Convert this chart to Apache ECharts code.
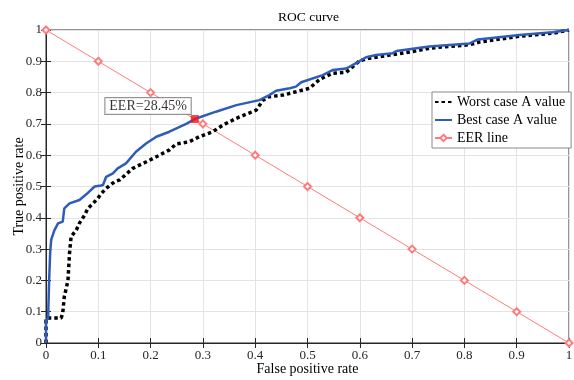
<!DOCTYPE html>
<html>
<head>
<meta charset="utf-8">
<script src="https://cdn.jsdelivr.net/npm/echarts@6/dist/echarts.min.js"></script>
<style>
html,body{margin:0;padding:0;background:#fff;}
#chart{width:574px;height:380px;}
</style>
</head>
<body>
<div id="chart"></div>
<script>
// ---- data ----
const tickValues = [0, 0.1, 0.2, 0.3, 0.4, 0.5, 0.6, 0.7, 0.8, 0.9, 1];

const worstX = [0, 0, 0.002, 0.029, 0.032, 0.035, 0.042, 0.045, 0.048, 0.058, 0.064, 0.074, 0.08, 0.09, 0.099, 0.106, 0.115, 0.131, 0.141, 0.166, 0.192, 0.217, 0.236, 0.249, 0.274, 0.293, 0.319, 0.338, 0.357, 0.364, 0.402, 0.415, 0.427, 0.453, 0.504, 0.523, 0.548, 0.574, 0.6, 0.619, 0.657, 0.701, 0.733, 0.81, 0.83, 0.905, 0.97, 1];
const worstY = [0, 0.073, 0.08, 0.08, 0.096, 0.148, 0.2, 0.287, 0.34, 0.361, 0.383, 0.409, 0.43, 0.446, 0.462, 0.478, 0.494, 0.515, 0.521, 0.558, 0.579, 0.6, 0.617, 0.636, 0.643, 0.659, 0.675, 0.696, 0.712, 0.718, 0.744, 0.776, 0.787, 0.792, 0.814, 0.842, 0.862, 0.865, 0.902, 0.91, 0.92, 0.931, 0.942, 0.953, 0.962, 0.98, 0.99, 1];

const bestX = [0, 0, 0.004, 0.006, 0.008, 0.01, 0.016, 0.023, 0.032, 0.035, 0.045, 0.064, 0.077, 0.093, 0.105, 0.109, 0.115, 0.128, 0.137, 0.153, 0.172, 0.192, 0.211, 0.236, 0.268, 0.2845, 0.325, 0.364, 0.408, 0.427, 0.44, 0.466, 0.478, 0.488, 0.529, 0.548, 0.574, 0.593, 0.612, 0.631, 0.663, 0.67, 0.733, 0.81, 0.826, 0.905, 0.969, 1];
const bestY = [0, 0.07, 0.08, 0.2, 0.29, 0.33, 0.36, 0.382, 0.388, 0.43, 0.446, 0.457, 0.475, 0.5, 0.503, 0.505, 0.531, 0.542, 0.558, 0.574, 0.611, 0.638, 0.659, 0.675, 0.7, 0.7155, 0.739, 0.76, 0.776, 0.792, 0.806, 0.814, 0.819, 0.833, 0.856, 0.872, 0.877, 0.894, 0.913, 0.92, 0.926, 0.933, 0.947, 0.957, 0.97, 0.984, 0.993, 1];

const eerX = [0, 0.1, 0.2, 0.3, 0.4, 0.5, 0.6, 0.7, 0.8, 0.9, 1];
const eerY = [1, 0.9, 0.8, 0.7, 0.6, 0.5, 0.4, 0.3, 0.2, 0.1, 0];

const eerPoint = [0.2845, 0.7155];
const eerLabel = 'EER=28.45%';

const seriesNames = ['Worst case A value', 'Best case A value', 'EER line'];

// ---- chart ----
const zip = (xs, ys) => xs.map((x, i) => [x, ys[i]]);
const serif = '"Liberation Serif", "DejaVu Serif", serif';
const dark = '#262626';
const fmt = v => String(+(+v).toFixed(1));

const chart = echarts.init(document.getElementById('chart'), null, {renderer: 'canvas'});

const baseAxis = {
  type: 'value', min: 0, max: 1, interval: 0.1,
};

chart.setOption({
  animation: false,
  backgroundColor: '#fff',
  title: {
    text: 'ROC curve', left: 273, top: 5,
    textStyle: {fontFamily: serif, fontSize: 13.5, fontWeight: 'normal', color: '#000'}
  },
  grid: {left: 46, right: 5, top: 30, bottom: 37, show: true, borderColor: dark, borderWidth: 1,
         containLabel: false, outerBoundsMode: 'none'},
  legend: {
    orient: 'vertical', left: 432, top: 92,
    data: [
      {name: seriesNames[0], itemStyle: {opacity: 0}},
      {name: seriesNames[1], itemStyle: {opacity: 0}},
      {name: seriesNames[2]}
    ],
    backgroundColor: '#fff', borderColor: '#8a8a8a', borderWidth: 1,
    padding: [3, 6, 3, 2], itemGap: 4, itemWidth: 17, itemHeight: 8,
    textStyle: {fontFamily: serif, fontSize: 14, color: '#000', lineHeight: 14}
  },
  xAxis: [
    Object.assign({}, baseAxis, {
      position: 'bottom',
      name: 'False positive rate', nameLocation: 'middle', nameGap: 19, nameMoveOverlap: false,
      nameTextStyle: {fontFamily: serif, fontSize: 14, color: '#000'},
      axisLine: {show: true, lineStyle: {color: dark, width: 1}},
      axisTick: {show: true, inside: true, length: 5, lineStyle: {color: dark}},
      axisLabel: {fontFamily: serif, fontSize: 13, color: dark, margin: 6, formatter: fmt},
      splitLine: {show: true, lineStyle: {color: '#e3e3e3', width: 1}}
    }),
    Object.assign({}, baseAxis, {
      position: 'top',
      axisLine: {show: true, lineStyle: {color: dark, width: 1}},
      axisTick: {show: true, inside: true, length: 5, lineStyle: {color: dark}},
      axisLabel: {show: false},
      splitLine: {show: false}
    })
  ],
  yAxis: [
    Object.assign({}, baseAxis, {
      position: 'left',
      name: 'True positive rate', nameLocation: 'middle', nameGap: 20, nameMoveOverlap: false,
      nameTextStyle: {fontFamily: serif, fontSize: 14, color: '#000'},
      axisLine: {show: true, lineStyle: {color: dark, width: 1}},
      axisTick: {show: true, inside: true, length: 5, lineStyle: {color: dark}},
      axisLabel: {fontFamily: serif, fontSize: 13, color: dark, margin: 4, formatter: fmt},
      splitLine: {show: true, lineStyle: {color: '#e3e3e3', width: 1}}
    }),
    Object.assign({}, baseAxis, {
      position: 'right',
      axisLine: {show: true, lineStyle: {color: dark, width: 1}},
      axisTick: {show: true, inside: true, length: 5, lineStyle: {color: dark}},
      axisLabel: {show: false},
      splitLine: {show: false}
    })
  ],
  series: [
    {
      name: seriesNames[2], type: 'line', data: zip(eerX, eerY),
      symbol: 'emptyDiamond', symbolSize: 7, z: 2,
      itemStyle: {color: '#ff7b7b', borderColor: '#ff7b7b', borderWidth: 0.8},
      lineStyle: {color: '#ff7b7b', width: 1}
    },
    {
      name: seriesNames[0], type: 'line', data: zip(worstX, worstY),
      showSymbol: false, symbol: 'none', z: 3,
      itemStyle: {color: '#000'},
      lineStyle: {color: '#000', width: 3.5, type: [3.5, 3], cap: 'butt'}
    },
    {
      name: seriesNames[1], type: 'line', data: zip(bestX, bestY),
      showSymbol: false, symbol: 'none', z: 4,
      itemStyle: {color: '#2e5cb8'},
      lineStyle: {color: '#2e5cb8', width: 2.5}
    },
    {
      name: 'EER', type: 'scatter', data: [eerPoint],
      symbol: 'rect', symbolSize: 8, z: 5,
      itemStyle: {color: '#f01818'},
      label: {
        show: true, position: 'left', distance: 0, offset: [0, -13],
        formatter: eerLabel,
        fontFamily: serif, fontSize: 14, color: '#000',
        backgroundColor: '#fff', borderColor: '#777', borderWidth: 1,
        padding: [1, 4, 1, 4]
      }
    }
  ]
});
</script>
</body>
</html>
